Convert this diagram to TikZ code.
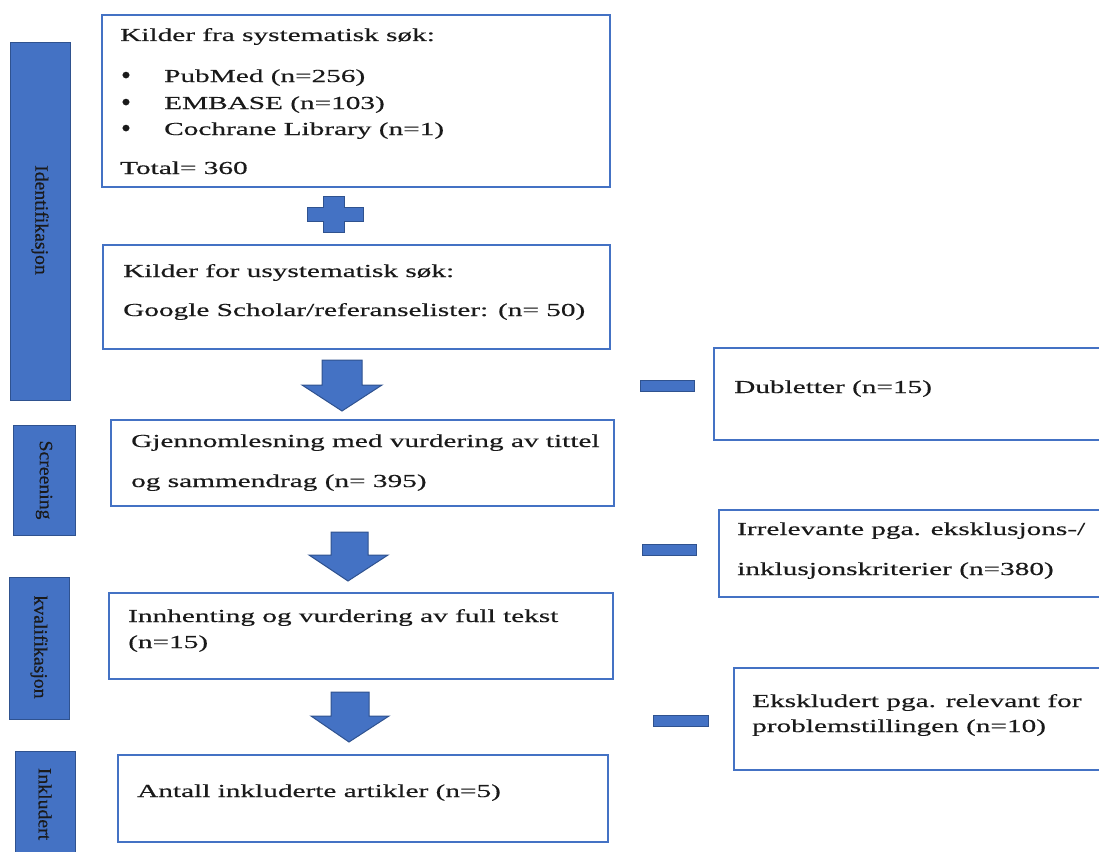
\documentclass[tikz,border=0pt]{standalone}
\usepackage{fontspec}
\setmainfont[FakeStretch=1.6,FakeBold=0.4]{Liberation Serif}
\newfontfamily\rotfont[FakeStretch=1.05,FakeBold=0.4]{Liberation Serif}
\definecolor{obl}{HTML}{4472C4}
\definecolor{obd}{HTML}{2F528F}
\definecolor{tx}{HTML}{1A1A1A}
\begin{document}
\begin{tikzpicture}[x=1pt,y=-1pt,
  box/.style={draw=obl, line width=2pt, fill=white, anchor=north west, inner sep=0pt},
  bar/.style={fill=obl, draw=obd, line width=1.2pt, anchor=north west, inner sep=0pt},
  txt/.style={anchor=base west, inner sep=0pt, text=tx, font=\fontsize{18.3}{22}\selectfont},
  bul/.style={anchor=base, inner sep=0pt, text=tx, font=\rotfont\fontsize{27}{22}\selectfont},
  lbl/.style={rotate=-90, inner sep=0pt, text=tx, font=\rotfont\fontsize{18.8}{22}\selectfont},
  blk/.style={fill=obl, draw=obd, line width=1pt, line join=miter}]
\useasboundingbox (0,0) rectangle (1099,851);
% side bars
\node[bar, minimum width=60pt, minimum height=358pt] (barid) at (10,42) {};
\node[bar, minimum width=62pt, minimum height=110pt] (barsc) at (13,425) {};
\node[bar, minimum width=60pt, minimum height=142pt] (barkv) at (9,577) {};
\node[bar, minimum width=60pt, minimum height=110pt] (barin) at (15,751) {};
\node[lbl] (lid) at (40,220) {Identifikasjon};
\node[lbl] (lsc) at (44,480) {Screening};
\node[lbl] (lkv) at (39,647) {kvalifikasjon};
\node[lbl] (lin) at (45,804) {Inkludert};
% main boxes
\node[box, minimum width=508pt, minimum height=172pt] (b1) at (101,14) {};
\node[box, minimum width=507pt, minimum height=104pt] (b2) at (102,244) {};
\node[box, minimum width=503pt, minimum height=86pt] (b3) at (110,419) {};
\node[box, minimum width=504pt, minimum height=86pt] (b4) at (108,592) {};
\node[box, minimum width=490pt, minimum height=87pt] (b5) at (117,754) {};
% side boxes
\node[box, minimum width=400pt, minimum height=92pt] (s1) at (713,347) {};
\node[box, minimum width=400pt, minimum height=87pt] (s2) at (718,509) {};
\node[box, minimum width=400pt, minimum height=102pt] (s3) at (733,667) {};
% texts box 1
\node[txt] (t1a) at (120,41) {Kilder fra systematisk søk:};
\node[bul] (p1) at (126,84) {•};
\node[bul] (p2) at (126,111) {•};
\node[bul] (p3) at (126,137) {•};
\node[txt] (t1b) at (164,82) {PubMed (n=256)};
\node[txt] (t1c) at (164,109) {EMBASE (n=103)};
\node[txt] (t1d) at (164,135) {Cochrane Library (n=1)};
\node[txt] (t1e) at (120,174) {Total= 360};
% box 2
\node[txt] (t2a) at (123,277) {Kilder for usystematisk søk:};
\node[txt] (t2b) at (123,316) {Google Scholar/referanselister: (n= 50)};
% box 3
\node[txt] (t3a) at (131,447) {Gjennomlesning med vurdering av tittel};
\node[txt] (t3b) at (131,487) {og sammendrag (n= 395)};
% box 4
\node[txt] (t4a) at (128,622) {Innhenting og vurdering av full tekst};
\node[txt] (t4b) at (128,648) {(n=15)};
% box 5
\node[txt] (t5a) at (137,797) {Antall inkluderte artikler (n=5)};
% side texts
\node[txt] (u1) at (734,393) {Dubletter (n=15)};
\node[txt] (u2a) at (737,535) {Irrelevante pga. eksklusjons-/};
\node[txt] (u2b) at (737,575) {inklusjonskriterier (n=380)};
\node[txt] (u3a) at (752,707) {Ekskludert pga. relevant for};
\node[txt] (u3b) at (752,732) {problemstillingen (n=10)};
% plus sign
\draw[blk] (323,196) -- (344,196) -- (344,207) -- (363,207) -- (363,221) -- (344,221) -- (344,232) -- (323,232) -- (323,221) -- (307,221) -- (307,207) -- (323,207) -- cycle;
% down arrows
\draw[blk] (322,360) -- (362,360) -- (362,385) -- (382,385) -- (342,411) -- (302,385) -- (322,385) -- cycle;
\draw[blk] (331,532) -- (368,532) -- (368,555) -- (388,555) -- (348,581) -- (309,555) -- (331,555) -- cycle;
\draw[blk] (331,692) -- (369,692) -- (369,716) -- (389,716) -- (349,742) -- (311,716) -- (331,716) -- cycle;
% minus signs
\draw[blk] (640,380) rectangle (694,391);
\draw[blk] (642,544) rectangle (696,555);
\draw[blk] (653,715) rectangle (708,726);
\end{tikzpicture}
\end{document}
